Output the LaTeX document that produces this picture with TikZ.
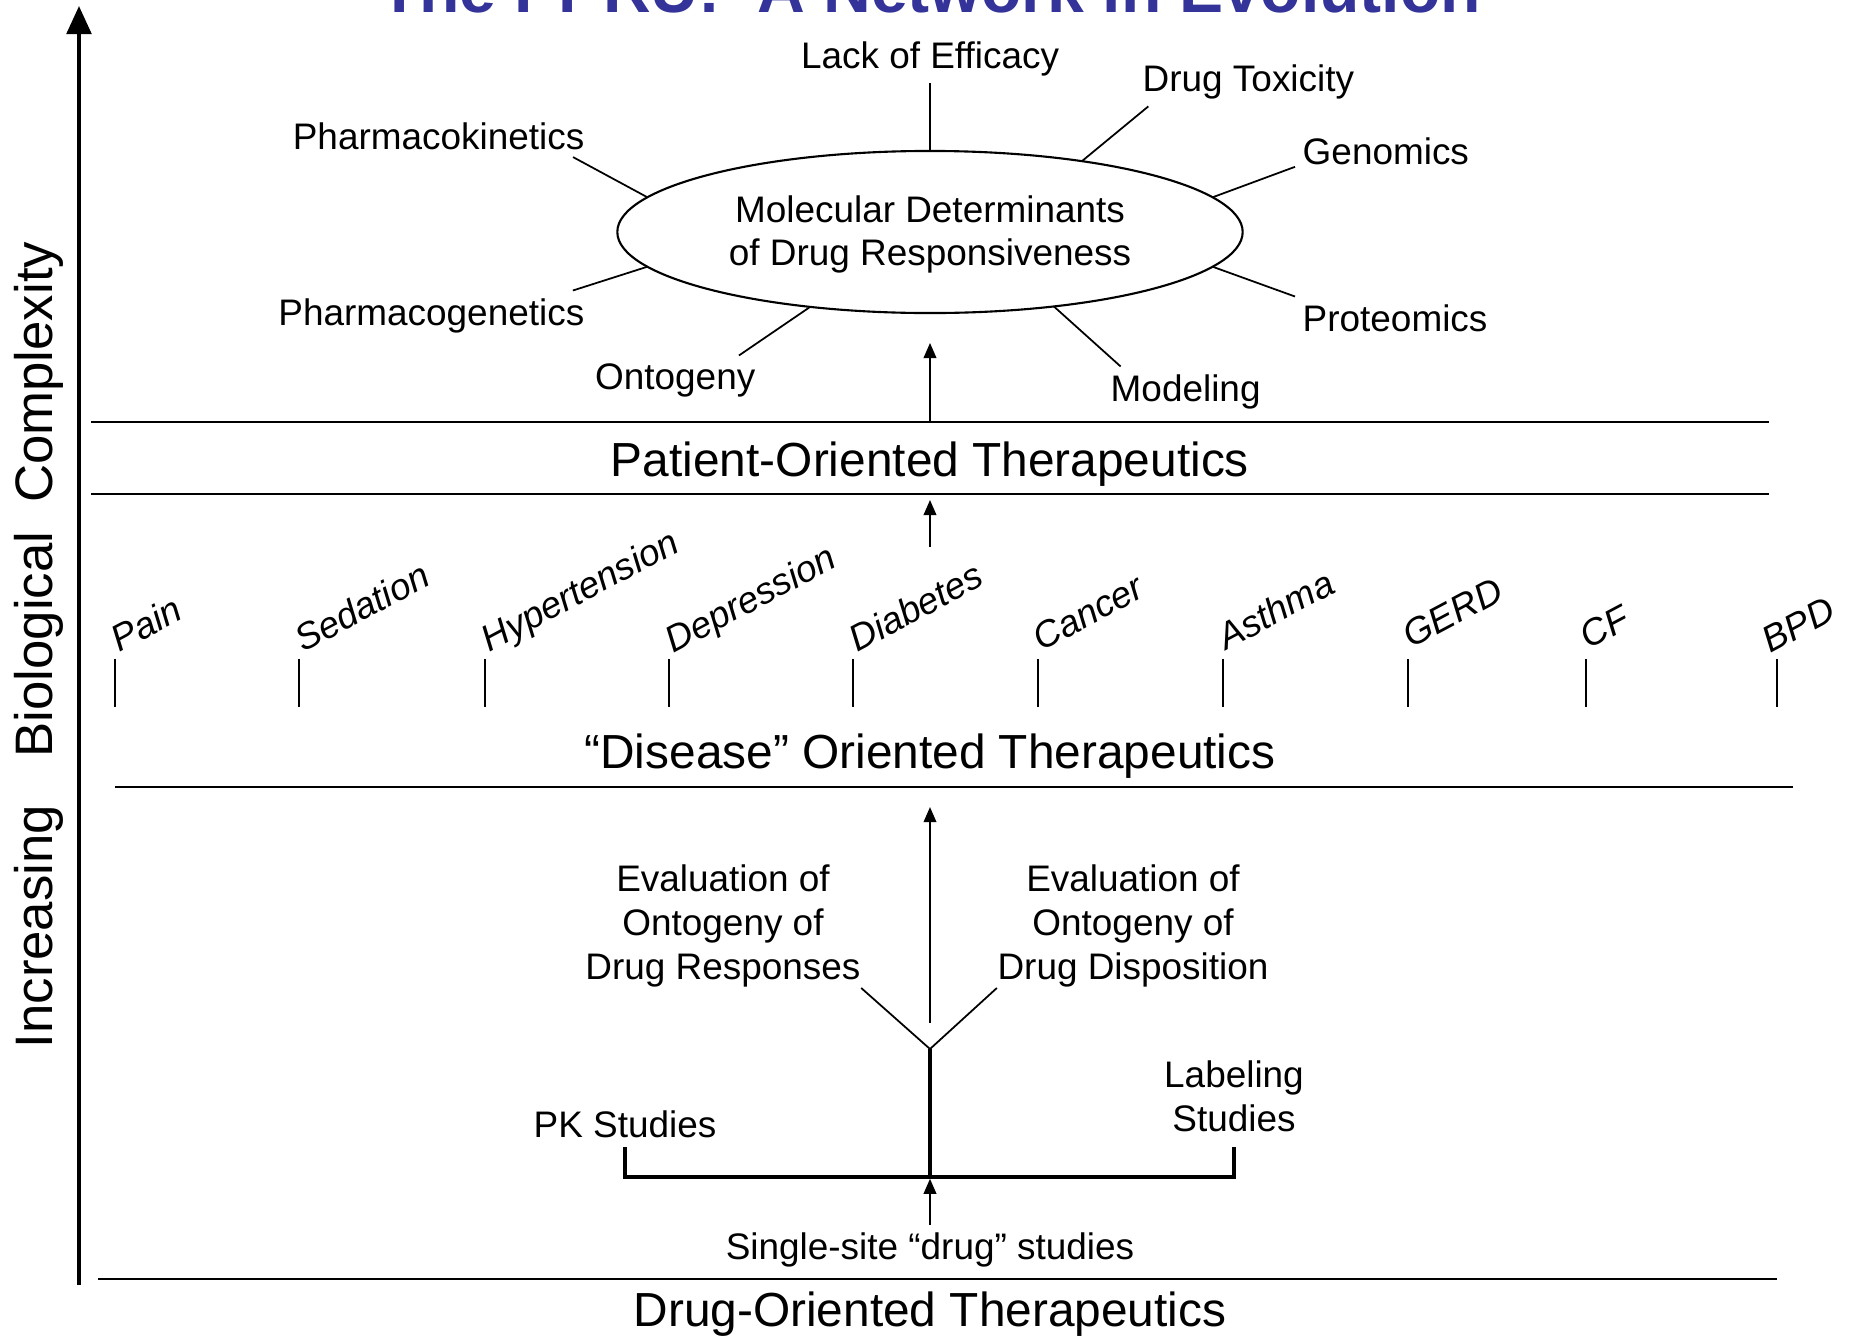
\documentclass[tikz,border=0pt]{standalone}
\usepackage{fontspec}
\setmainfont{Liberation Sans}
\usepackage{tikz}
\usetikzlibrary{arrows.meta,shapes.geometric}

\definecolor{pprublue}{RGB}{51,51,153}

\tikzset{
    lbl/.style={font=\fontsize{10.5}{12.5}\selectfont, inner sep=2pt},
    band/.style={font=\fontsize{13.6}{16}\selectfont, anchor=base},
    dis/.style={font=\fontsize{10.5}{12.5}\selectfont\itshape, rotate=28, anchor=base west, inner sep=0pt},
    rule/.style={line width=0.65pt},
    spoke/.style={line width=0.5pt},
    brk/.style={line width=0.9pt},
    arr/.style={line width=0.5pt, -{Triangle[length=4.3pt,width=3.6pt]}}
}

\begin{document}
\begin{tikzpicture}[x=0.01cm, y=-0.01cm]
    \useasboundingbox (0,0) rectangle (1853,1336);

    % title, cut by the top of the slide
    \node[anchor=base, text=pprublue, font=\fontsize{18.8}{22}\selectfont\bfseries] (title) at (930,12) {The PPRU:\ \ A Network in Evolution};

    % complexity axis
    \coordinate (axlo) at (79,1285);
    \coordinate (axhi) at (79,6);
    \draw[line width=1.1pt, -{Triangle[length=8pt,width=7pt]}] (axlo) -- (axhi);
    \node[rotate=90, anchor=base, font=\fontsize{15}{18}\selectfont] (axlabel) at (53,645) {Increasing\hspace{0.9em}Biological\hspace{0.55em}Complexity};

    % bands
    \draw[rule] (91,422) -- (1769,422);
    \draw[rule] (91,494) -- (1769,494);
    \node[band] (pot) at (930,476) {Patient-Oriented Therapeutics};
    \draw[rule] (115,787) -- (1793,787);
    \node[band] (dot) at (930,768) {“Disease” Oriented Therapeutics};
    \draw[line width=0.8pt] (98,1279) -- (1777,1279);
    \node[band] (drot) at (930,1326) {Drug-Oriented Therapeutics};

    % molecular determinants
    \node[draw, ellipse, line width=0.6pt, minimum width=6.25cm, minimum height=1.62cm, inner sep=0pt, outer sep=0pt, align=center, font=\fontsize{10.5}{12.5}\selectfont] (mdr) at (930,232) {\rule{0pt}{9pt}Molecular Determinants\\of Drug Responsiveness};

    \node[lbl, anchor=base] (eff) at (930,68) {Lack of Efficacy};
    \node[lbl, anchor=base west] (tox) at (1135,91) {Drug Toxicity};
    \node[lbl, anchor=base west] (gen) at (1295,164) {Genomics};
    \node[lbl, anchor=base west] (prot) at (1295,331) {Proteomics};
    \node[lbl, anchor=base west] (mod) at (1103,401) {Modeling};
    \node[lbl, anchor=base east] (ont) at (763,389) {Ontogeny};
    \node[lbl, anchor=base east] (pgen) at (592,325) {Pharmacogenetics};
    \node[lbl, anchor=base east] (pk) at (592,149) {Pharmacokinetics};

    \draw[spoke] (mdr.north) -- (eff);
    \draw[spoke] (mdr.25) -- (tox.194);
    \draw[spoke] (mdr.7) -- (gen.190);
    \draw[spoke] (mdr.-7) -- (prot.north west);
    \draw[spoke] (mdr.-31) -- (mod.159);
    \draw[spoke] (mdr.212) -- (ont.21);
    \draw[spoke] (mdr.187) -- (pgen.10);
    \draw[spoke] (mdr.173) -- (pk.-9);

    \coordinate (pottop) at (930,422);
    \coordinate (potbot) at (930,494);
    \coordinate (dottop) at (930,547);
    \draw[arr, shorten >=8.5pt] (pottop) -- (mdr.south);
    \draw[arr, shorten >=1.7pt] (dottop) -- (potbot);

    % diseases
    \draw[rule] (115,659) -- (115,707);
    \draw[rule] (299,659) -- (299,707);
    \draw[rule] (485,659) -- (485,707);
    \draw[rule] (669,659) -- (669,707);
    \draw[rule] (853,659) -- (853,707);
    \draw[rule] (1038,659) -- (1038,707);
    \draw[rule] (1223,659) -- (1223,707);
    \draw[rule] (1408,659) -- (1408,707);
    \draw[rule] (1586,659) -- (1586,707);
    \draw[rule] (1777,659) -- (1777,707);
    \node[dis] (pain) at (119,653) {Pain};
    \node[dis] (sed) at (303,653) {Sedation};
    \node[dis] (hyp) at (489,653) {Hypertension};
    \node[dis] (dep) at (673,654) {Depression};
    \node[dis] (diab) at (857,653) {Diabetes};
    \node[dis] (canc) at (1041,652) {Cancer};
    \node[dis] (asth) at (1226,651) {Asthma};
    \node[dis] (gerd) at (1411,649) {GERD};
    \node[dis] (cf) at (1588,650) {CF};
    \node[dis] (bpd) at (1770,654) {BPD};

    % drug studies
    \node[lbl, inner sep=0pt, align=center, anchor=south] (resp) at (723,988) {Evaluation of\\Ontogeny of\\Drug Responses};
    \node[lbl, inner sep=0pt, align=center, anchor=south] (disp) at (1133,988) {Evaluation of\\Ontogeny of\\Drug Disposition};
    \node[lbl, inner xsep=0pt, inner ysep=0.08cm, anchor=south] (pks) at (625,1147) {PK Studies};
    \node[lbl, inner xsep=0pt, inner ysep=0.14cm, align=center, anchor=south] (lbs) at (1234,1147) {Labeling\\Studies};
    \node[lbl, anchor=base] (ssd) at (930,1259) {Single-site “drug” studies};

    \coordinate (fork) at (930,1049);
    \coordinate (join) at (930,1177);
    \coordinate (dotbot) at (930,787);
    \draw[arr, shorten <=7.4pt, shorten >=5.7pt] (fork) -- (dotbot);
    \draw[spoke] (fork) -- (resp.south east);
    \draw[spoke] (fork) -- (disp.south west);
    \draw[brk] (fork) -- (join);
    \draw[brk] (pks.south) |- (join) -| (lbs.south);
    \draw[arr, shorten >=0.5pt] (ssd) -- (join);
\end{tikzpicture}
\end{document}
